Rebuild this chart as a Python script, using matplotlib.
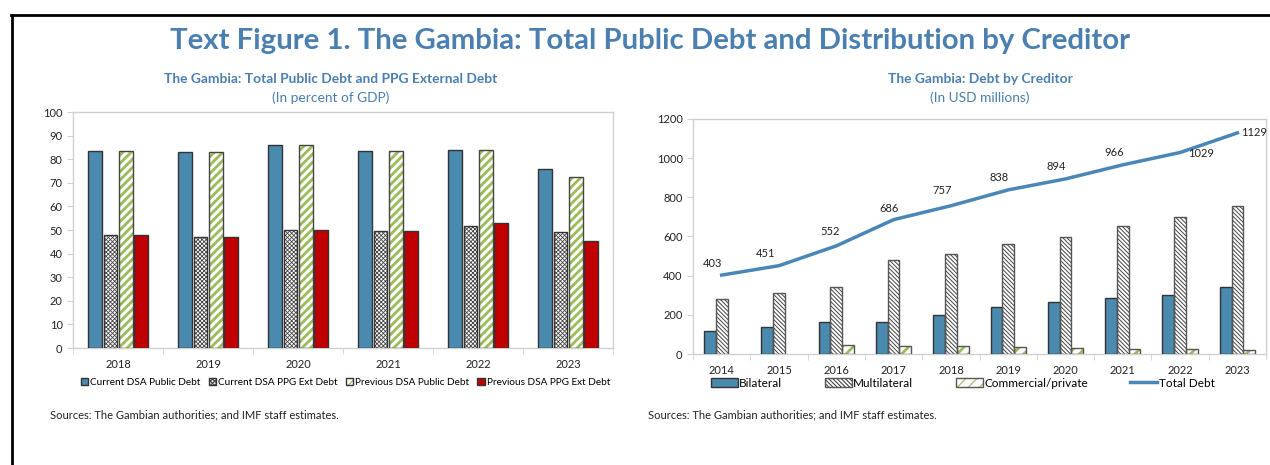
import numpy as np
import matplotlib
matplotlib.use("Agg")
import matplotlib.pyplot as plt
from matplotlib.patches import Patch
from matplotlib.lines import Line2D
from matplotlib.legend_handler import HandlerTuple

plt.rcParams['font.family'] = ['Lato', 'DejaVu Sans']
plt.rcParams['hatch.linewidth'] = 0.8

# --- data: public debt, percent of GDP ---
years_a = ['2018', '2019', '2020', '2021', '2022', '2023']
cur_public = [83.5, 83.0, 86.0, 83.5, 84.0, 76.0]
cur_ppg = [48.0, 47.0, 50.0, 49.5, 51.5, 49.0]
prev_public = [83.5, 83.0, 86.0, 83.5, 84.0, 72.5]
prev_ppg = [48.0, 47.0, 50.0, 49.5, 53.0, 45.5]

# --- data: debt by creditor, USD millions ---
years_b = ['2014', '2015', '2016', '2017', '2018', '2019', '2020', '2021', '2022', '2023']
bilateral = [120, 140, 162, 165, 197, 240, 265, 285, 300, 340]
multilateral = [280, 310, 340, 478, 510, 560, 595, 652, 702, 755]
commercial = [0, 0, 48, 43, 43, 38, 33, 28, 28, 22]
total_debt = [403, 451, 552, 686, 757, 838, 894, 966, 1029, 1129]

BLUE = '#4a8aae'
RED = '#c00000'
GREEN = '#9bbb59'
TITLE = '#4a7fb0'
LINE = '#4a86b8'
SPINE = '#d0d0d0'

fig = plt.figure(figsize=(12.7, 4.65), dpi=100)

# outer frame (top and left rules)
fig.add_artist(Line2D([0.0087, 1.0], [0.9677, 0.9677], color='black', lw=2))
fig.add_artist(Line2D([0.0095, 0.0095], [0.0, 0.9677], color='black', lw=2))

fig.text(0.512, 0.912, 'Text Figure 1. The Gambia: Total Public Debt and Distribution by Creditor',
         ha='center', va='center', fontsize=21.2, fontweight='bold', color=TITLE)


def style_axes(ax, n):
    for s in ax.spines.values():
        s.set_color(SPINE)
        s.set_linewidth(1)
    ax.set_xlim(-0.5, n - 0.5)
    ax.set_xticks(range(n))
    ax.set_xticks(np.arange(-0.5, n, 1.0), minor=True)
    ax.tick_params(axis='x', which='major', length=0, pad=8, labelsize=8, colors='#222222')
    ax.tick_params(axis='x', which='minor', length=4, color=SPINE)
    ax.tick_params(axis='y', length=4, color=SPINE, labelsize=8, labelcolor='#222222')


def hatch_patch(hatch, hcolor, lw):
    with plt.rc_context({'hatch.linewidth': lw}):
        return Patch(facecolor='white', edgecolor=hcolor, hatch=hatch, linewidth=0)


def hatched_bar(ax, x, h, w, hatch, hcolor, ecolor, lw=0.8):
    with plt.rc_context({'hatch.linewidth': lw}):
        ax.bar(x, h, w, color='white', edgecolor=hcolor, hatch=hatch, linewidth=0, zorder=2)
    ax.bar(x, h, w, color='none', edgecolor=ecolor, linewidth=1, zorder=3)


# ---------- left panel ----------
ax1 = fig.add_axes([0.0575, 0.2516, 0.4252, 0.5075])
xa = np.arange(len(years_a))
w = 0.15
off = 0.172
ax1.bar(xa - 1.5 * off, cur_public, w, color=BLUE, edgecolor='#333333', linewidth=1, zorder=3)
hatched_bar(ax1, xa - 0.5 * off, cur_ppg, w, 'xxxxxxxx', '#444444', '#333333', lw=0.6)
hatched_bar(ax1, xa + 0.5 * off, prev_public, w, '////', GREEN, '#444444', lw=2.0)
ax1.bar(xa + 1.5 * off, prev_ppg, w, color=RED, edgecolor='#333333', linewidth=1, zorder=3)
style_axes(ax1, len(years_a))
ax1.set_xticklabels(years_a)
ax1.set_ylim(0, 100)
ax1.set_yticks(range(0, 101, 10))

fig.text(0.2606, 0.830, 'The Gambia: Total Public Debt and PPG External Debt', ha='center', va='center',
         fontsize=9.9, fontweight='bold', color=TITLE)
fig.text(0.2606, 0.789, '(In percent of GDP)', ha='center', va='center', fontsize=9.9, color=TITLE)

h_ppg = (hatch_patch('xxxxxxxx', '#444444', 0.6),
         Patch(facecolor='none', edgecolor='#333333', linewidth=1))
h_prev = (hatch_patch('////', GREEN, 2.0),
          Patch(facecolor='none', edgecolor='#333333', linewidth=1))
leg1 = fig.legend([Patch(facecolor=BLUE, edgecolor='#333333'), h_ppg, h_prev,
                   Patch(facecolor=RED, edgecolor='#333333')],
                  ['Current DSA Public Debt', 'Current DSA PPG Ext Debt',
                   'Previous DSA Public Debt', 'Previous DSA PPG Ext Debt'],
                  handler_map={tuple: HandlerTuple(ndivide=1)},
                  loc='center', bbox_to_anchor=(0.272, 0.178), ncol=4, frameon=False,
                  fontsize=7.2, handlelength=0.75, handleheight=0.75, handletextpad=0.2,
                  columnspacing=0.8)

fig.text(0.039, 0.1075, 'Sources: The Gambian authorities; and IMF staff estimates.',
         ha='left', va='center', fontsize=8, color='#222222')

# ---------- right panel ----------
ax2 = fig.add_axes([0.5457, 0.2387, 0.4512, 0.5054])
xb = np.arange(len(years_b))
wb = 0.205
ax2.bar(xb - wb, bilateral, wb, color=BLUE, edgecolor='#333333', linewidth=1, zorder=3)
hatched_bar(ax2, xb, multilateral, wb, '\\\\\\\\\\\\\\\\', '#444444', '#555555', lw=0.7)
keep = [i for i, v in enumerate(commercial) if v > 0]
hatched_bar(ax2, xb[keep] + wb, [commercial[i] for i in keep], wb, '///', GREEN, '#555555', lw=2.0)
ax2.plot(xb, total_debt, color=LINE, lw=2.5, zorder=4)
style_axes(ax2, len(years_b))
ax2.set_xticklabels(years_b)
ax2.set_ylim(0, 1200)
ax2.set_yticks(range(0, 1201, 200))

# value labels on the total debt line
label_off = [(-9, 12), (-13, 12), (-6, 14), (-5, 11), (-9, 15), (-9, 12), (-9, 12), (-9, 12),
             (21, -1), (4, 0)]
for i, v in enumerate(total_debt):
    dx, dy = label_off[i]
    ha = 'left' if i == len(total_debt) - 1 else 'center'
    ax2.annotate(str(v), (xb[i], v), xytext=(dx, dy), textcoords='offset pixels',
                 ha=ha, va='center', fontsize=8, color='#222222', zorder=5)

fig.text(0.7717, 0.830, 'The Gambia: Debt by Creditor', ha='center', va='center',
         fontsize=9.9, fontweight='bold', color=TITLE)
fig.text(0.7717, 0.789, '(In USD millions)', ha='center', va='center', fontsize=9.9, color=TITLE)

h_multi = (hatch_patch('\\\\\\\\\\\\\\\\', '#444444', 0.7),
           Patch(facecolor='none', edgecolor='#555555', linewidth=1))
h_comm = (hatch_patch('///', GREEN, 2.0),
          Patch(facecolor='none', edgecolor='#555555', linewidth=1))
leg2 = fig.legend([Patch(facecolor=BLUE, edgecolor='#333333'), h_multi, h_comm,
                   Line2D([], [], color=LINE, lw=2.5)],
                  ['Bilateral', 'Multilateral', 'Commercial/private', 'Total Debt'],
                  handler_map={tuple: HandlerTuple(ndivide=1)},
                  loc='center', bbox_to_anchor=(0.758, 0.176), ncol=4, frameon=False,
                  fontsize=8.5, handlelength=2.3, handleheight=0.8, handletextpad=0.1,
                  columnspacing=3.6)

fig.text(0.510, 0.1075, 'Sources: The Gambian authorities; and IMF staff estimates.',
         ha='left', va='center', fontsize=8, color='#222222')

fig.savefig('out.png', dpi=100)
